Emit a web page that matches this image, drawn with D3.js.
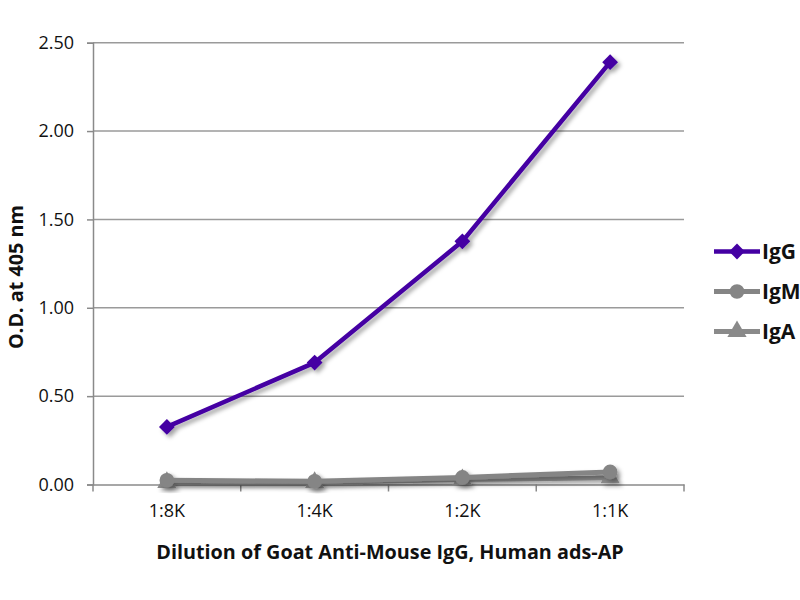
<!DOCTYPE html>
<html><head><meta charset="utf-8">
<script src="https://cdn.jsdelivr.net/npm/d3@7/dist/d3.min.js"></script>
<style>body{margin:0;background:#fff}svg{display:block}text{font-family:"Open Sans",sans-serif}</style>
</head><body><svg id="c" width="800" height="600"></svg>
<script>
const categories = ["1:8K","1:4K","1:2K","1:1K"];
const igG = [0.326, 0.69, 1.376, 2.39];
const igM = [0.024, 0.018, 0.04, 0.071];
const igA = [0.012, 0.012, 0.028, 0.038];
const yTicks = [0, 0.5, 1.0, 1.5, 2.0, 2.5];
const seriesNames = ["IgG","IgM","IgA"];

const series = [
  {name: seriesNames[0], values: igG, color: "#4400a3", shape: d3.symbolSquare, rot: 45, size: 125, width: 4.5},
  {name: seriesNames[1], values: igM, color: "#858585", shape: d3.symbolCircle, rot: 0, size: 170, width: 5},
  {name: seriesNames[2], values: igA, color: "#8a8a8a", shape: d3.symbolTriangle, rot: 0, size: 160, width: 5}
];

const svg = d3.select("#c");
const L = 93, R = 684, T = 42.7, B = 484.5;
const x = d3.scaleBand().domain(categories).range([L, R]);
const y = d3.scaleLinear().domain([0, 2.5]).range([B, T]);

const defs = svg.append("defs");
const f = defs.append("filter").attr("id","sh").attr("x","-20%").attr("y","-20%").attr("width","140%").attr("height","140%");
f.append("feDropShadow").attr("dx",3).attr("dy",3).attr("stdDeviation",2).attr("flood-color","#000").attr("flood-opacity",0.35);

// gridlines
svg.append("g").selectAll("line").data(yTicks.filter(d=>d>0)).join("line")
  .attr("x1", L).attr("x2", R).attr("y1", d=>y(d)).attr("y2", d=>y(d))
  .attr("stroke","#9a9a9a").attr("stroke-width",1.5);

// y axis
const ya = svg.append("g").attr("transform",`translate(${L},0)`)
  .call(d3.axisLeft(y).tickValues(yTicks).tickFormat(d3.format(".2f")).tickSize(6).tickPadding(13));
ya.select(".domain").attr("stroke","#8a8a8a").attr("stroke-width",1.5);
ya.selectAll(".tick line").attr("stroke","#8a8a8a").attr("stroke-width",1.5);
ya.selectAll(".tick text").attr("font-size",18).attr("fill","#111");

// x axis
const xa = svg.append("g").attr("transform",`translate(0,${B})`)
  .call(d3.axisBottom(x).tickSize(0).tickPadding(20));
xa.select(".domain").attr("stroke","#8a8a8a").attr("stroke-width",1.5);
xa.selectAll(".tick text").attr("font-size",18).attr("fill","#111");
const bounds = categories.map(c=>x(c)).concat([R]);
xa.append("g").selectAll("line").data(bounds).join("line")
  .attr("x1",d=>d).attr("x2",d=>d).attr("y1",0).attr("y2",7)
  .attr("stroke","#8a8a8a").attr("stroke-width",1.5);

const cx = c => x(c) + x.bandwidth()/2;
const line = d3.line().x((d,i)=>cx(categories[i])).y(d=>y(d));
const sym = s => d3.symbol().type(s.shape).size(s.size)();

// draw series in reverse so IgG on top
series.slice().reverse().forEach(s=>{
  const g = svg.append("g").attr("filter","url(#sh)");
  g.append("path").datum(s.values).attr("d", line)
    .attr("fill","none").attr("stroke", s.color).attr("stroke-width", s.width).attr("stroke-linejoin","round");
  g.selectAll("path.m").data(s.values).join("path").attr("class","m")
    .attr("transform",(d,i)=>`translate(${cx(categories[i])},${y(d)}) rotate(${s.rot})`)
    .attr("d", sym(s))
    .attr("fill", s.color);
});

// legend
const lg = svg.append("g");
series.forEach((s,i)=>{
  const yy = 251.5 + i*40;
  const g = lg.append("g");
  g.append("line").attr("x1",714).attr("x2",760).attr("y1",yy).attr("y2",yy)
    .attr("stroke",s.color).attr("stroke-width",s.width);
  g.append("path").attr("transform",`translate(737,${yy}) rotate(${s.rot})`)
    .attr("d", sym(s)).attr("fill",s.color);
  g.append("text").attr("x",762).attr("y",yy).attr("dy","0.36em")
    .attr("font-size",21).attr("font-weight","bold").attr("fill","#111").text(s.name);
});

// axis titles
svg.append("text").attr("x",390).attr("y",559).attr("text-anchor","middle")
  .attr("font-size",19.8).attr("font-weight","bold").attr("fill","#111")
  .text("Dilution of Goat Anti-Mouse IgG, Human ads-AP");
svg.append("text").attr("transform","translate(23,277) rotate(-90)").attr("text-anchor","middle")
  .attr("font-size",19.8).attr("font-weight","bold").attr("fill","#111")
  .text("O.D. at 405 nm");
</script></body></html>
